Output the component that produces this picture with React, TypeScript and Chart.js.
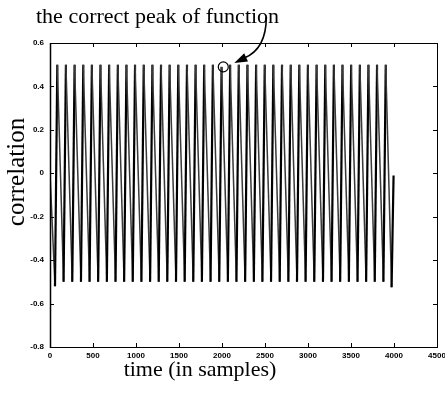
import React, { useEffect, useRef } from "react";
import { Chart, registerables } from "chart.js";

Chart.register(...registerables);

// ---- data ----
const startSample = 0;
const startValue = 0.0;

const troughSamples = [
  58, 158, 259, 360, 460, 560, 661, 762, 862, 962,
  1063, 1164, 1264, 1364, 1465, 1566, 1666, 1766, 1867, 1968,
  2068, 2168, 2269, 2370, 2470, 2570, 2671, 2772, 2872, 2972,
  3073, 3174, 3274, 3374, 3475, 3576, 3676, 3776, 3877, 3972,
];
const troughValues = [
  -0.52, -0.5, -0.5, -0.5, -0.5, -0.5, -0.5, -0.5, -0.5, -0.5,
  -0.5, -0.5, -0.5, -0.5, -0.5, -0.5, -0.5, -0.5, -0.5, -0.5,
  -0.5, -0.5, -0.5, -0.5, -0.5, -0.5, -0.5, -0.5, -0.5, -0.5,
  -0.5, -0.5, -0.5, -0.5, -0.5, -0.5, -0.5, -0.5, -0.5, -0.525,
];
const peakSamples = [
  85, 185, 286, 387, 487, 587, 688, 789, 889, 989,
  1090, 1191, 1291, 1391, 1492, 1593, 1693, 1793, 1894, 1995,
  2095, 2195, 2296, 2397, 2497, 2597, 2698, 2799, 2899, 2999,
  3100, 3201, 3301, 3401, 3502, 3603, 3703, 3803, 3904,
];
const peakValues = [
  0.5, 0.5, 0.5, 0.5, 0.5, 0.5, 0.5, 0.5, 0.5, 0.5,
  0.5, 0.5, 0.5, 0.5, 0.5, 0.5, 0.5, 0.5, 0.5, 0.49,
  0.5, 0.5, 0.5, 0.5, 0.5, 0.5, 0.5, 0.5, 0.5, 0.5,
  0.5, 0.5, 0.5, 0.5, 0.5, 0.5, 0.5, 0.5, 0.5,
];
const endSample = 3995;
const endValue = -0.01;

const xTickValues = [0, 500, 1000, 1500, 2000, 2500, 3000, 3500, 4000, 4500];
const yTickValues = [-0.8, -0.6, -0.4, -0.2, 0, 0.2, 0.4, 0.6];

const xTitle = "time (in samples)";
const yTitle = "correlation";
const annotationText = "the correct peak of function";
const markedSample = 2015;
const markedValue = 0.49;

// ---- build series ----
const points: { x: number; y: number }[] = [{ x: startSample, y: startValue }];
for (let i = 0; i < troughSamples.length; i++) {
  points.push({ x: troughSamples[i], y: troughValues[i] });
  if (i < peakSamples.length) points.push({ x: peakSamples[i], y: peakValues[i] });
}
points.push({ x: endSample, y: endValue });

const SERIF = "'Liberation Serif', 'DejaVu Serif', serif";
const SANS = "'Liberation Sans', Arial, sans-serif";

const framePlugin = {
  id: "framePlugin",
  afterDraw(chart: any) {
    const { ctx, chartArea: a, scales } = chart;
    const xs = scales.x;
    const ys = scales.y;
    ctx.save();
    ctx.strokeStyle = "#000";
    ctx.lineWidth = 1;
    ctx.strokeRect(a.left + 0.5, a.top + 0.5, a.right - a.left, a.bottom - a.top);
    ctx.lineWidth = 1.5;
    ctx.beginPath();
    ctx.moveTo(a.left + 0.5, a.top);
    ctx.lineTo(a.left + 0.5, a.bottom + 1);
    ctx.stroke();
    ctx.lineWidth = 1;
    const tl = 4;
    ctx.beginPath();
    xTickValues.forEach((v) => {
      const px = Math.round(xs.getPixelForValue(v)) + 0.5;
      ctx.moveTo(px, a.bottom);
      ctx.lineTo(px, a.bottom - tl);
      ctx.moveTo(px, a.top);
      ctx.lineTo(px, a.top + tl);
    });
    yTickValues.forEach((v) => {
      const py = Math.round(ys.getPixelForValue(v)) + 0.5;
      ctx.moveTo(a.left, py);
      ctx.lineTo(a.left + tl, py);
      ctx.moveTo(a.right, py);
      ctx.lineTo(a.right - tl, py);
    });
    ctx.stroke();

    // titles
    ctx.fillStyle = "#000";
    ctx.font = `22px ${SERIF}`;
    ctx.textAlign = "center";
    ctx.textBaseline = "middle";
    ctx.fillText(xTitle, 200, 370);
    ctx.save();
    ctx.font = `25px ${SERIF}`;
    ctx.translate(17, 172);
    ctx.rotate(-Math.PI / 2);
    ctx.fillText(yTitle, 0, 0);
    ctx.restore();

    // annotation text
    ctx.font = `22px ${SERIF}`;
    ctx.textAlign = "left";
    ctx.textBaseline = "alphabetic";
    ctx.fillText(annotationText, 36, 23);

    // circle on marked peak
    const cx = xs.getPixelForValue(markedSample);
    const cy = ys.getPixelForValue(markedValue);
    ctx.lineWidth = 1.2;
    ctx.beginPath();
    ctx.arc(cx, cy, 5, 0, Math.PI * 2);
    ctx.stroke();

    // curved arrow
    const tipX = cx + 11;
    const tipY = cy - 4;
    const sx = cx + 43;
    const sy = cy - 50;
    ctx.lineWidth = 1.6;
    ctx.beginPath();
    ctx.moveTo(sx, sy);
    ctx.quadraticCurveTo(cx + 43, cy - 18, tipX + 10, tipY - 5);
    ctx.stroke();
    // arrow head
    const ang = Math.atan2(6, -13);
    const len = 13;
    const hw = 4.5;
    const bx = tipX - Math.cos(ang) * len;
    const by = tipY - Math.sin(ang) * len;
    const nx = -Math.sin(ang);
    const ny = Math.cos(ang);
    ctx.beginPath();
    ctx.moveTo(tipX, tipY);
    ctx.lineTo(bx + nx * hw, by + ny * hw);
    ctx.lineTo(bx - nx * hw, by - ny * hw);
    ctx.closePath();
    ctx.fill();
    ctx.restore();
  },
};

export default function App() {
  const ref = useRef<HTMLCanvasElement | null>(null);
  useEffect(() => {
    if (!ref.current) return;
    const chart = new Chart(ref.current, {
      type: "line",
      data: {
        datasets: [
          {
            data: points,
            borderColor: "#000",
            borderWidth: 2,
            pointRadius: 0,
            tension: 0,
            fill: false,
            segment: {
              borderColor: (c: any) => (c.p1.parsed.y < c.p0.parsed.y ? "#3a3a3a" : "#000"),
              borderWidth: (c: any) => (c.p1.parsed.y < c.p0.parsed.y ? 1.5 : 2.2),
            },
          } as any,
        ],
      },
      options: {
        animation: false,
        responsive: false,
        devicePixelRatio: 1,
        parsing: false,
        layout: { padding: { top: 43, right: 8, left: 0, bottom: 0 } },
        plugins: { legend: { display: false }, tooltip: { enabled: false } },
        scales: {
          x: {
            type: "linear",
            min: 0,
            max: 4500,
            grid: { display: false, drawTicks: false },
            border: { display: false },
            afterBuildTicks: (s: any) => {
              s.ticks = xTickValues.map((v) => ({ value: v }));
            },
            afterFit: (s: any) => {
              s.height = 47;
              s.paddingLeft = 0;
              s.paddingRight = 0;
            },
            ticks: {
              color: "#000",
              font: { family: SANS, size: 8, weight: "bold" },
              padding: 4,
              maxRotation: 0,
              autoSkip: false,
              callback: (v: any) => String(v),
            },
          },
          y: {
            type: "linear",
            min: -0.8,
            max: 0.6,
            grid: { display: false, drawTicks: false },
            border: { display: false },
            afterBuildTicks: (s: any) => {
              s.ticks = yTickValues.map((v) => ({ value: v }));
            },
            afterFit: (s: any) => {
              s.width = 50;
              s.paddingTop = 0;
              s.paddingBottom = 0;
            },
            ticks: {
              color: "#000",
              font: { family: SANS, size: 8, weight: "bold" },
              padding: 6,
              autoSkip: false,
              callback: (v: any) => String(Number(Number(v).toFixed(1))),
            },
          },
        },
      },
      plugins: [framePlugin],
    });
    return () => chart.destroy();
  }, []);
  return (
    <div style={{ position: "absolute", left: 0, top: 0, width: 445, height: 394, background: "#fff" }}>
      <canvas ref={ref} width={445} height={394} style={{ width: 445, height: 394 }} />
    </div>
  );
}
